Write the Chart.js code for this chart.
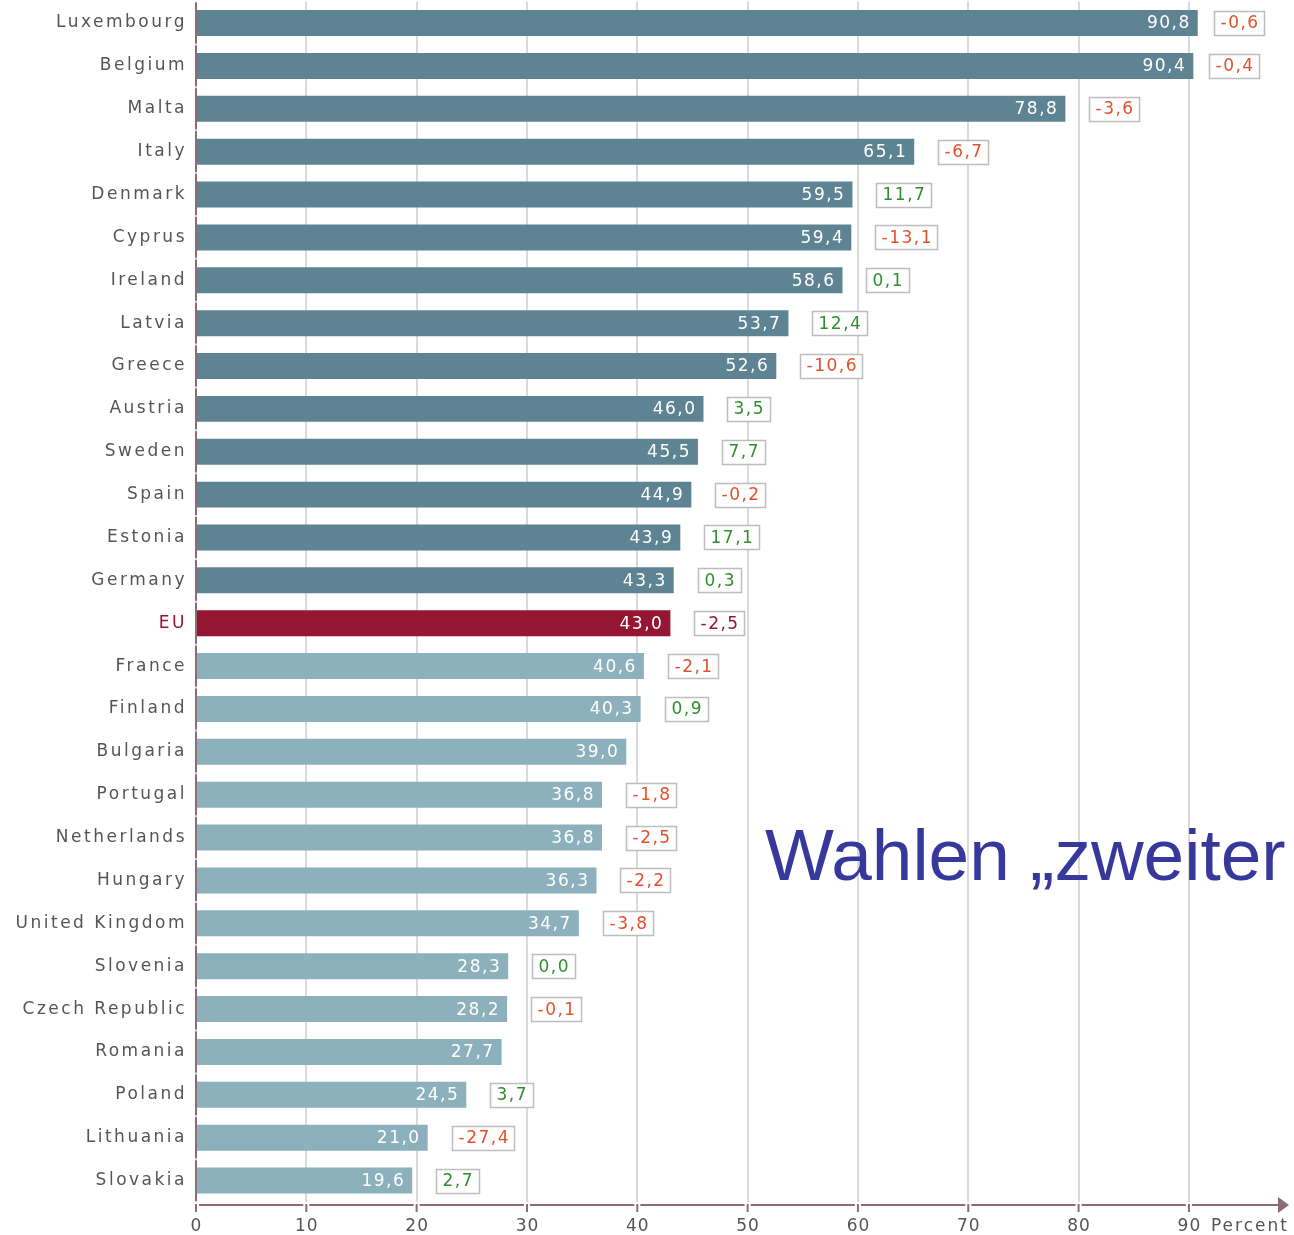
<!DOCTYPE html>
<html>
<head>
<meta charset="utf-8">
<script src="https://cdn.jsdelivr.net/npm/chart.js@4.4.1/dist/chart.umd.min.js"></script>
<style>
  html, body { margin: 0; padding: 0; background: #fff; }
  canvas { display: block; }
</style>
</head>
<body>
<canvas id="turnout-chart" width="1294" height="1235"></canvas>
<script>
/* ── Data ── */
const countries = [
  "Luxembourg", "Belgium", "Malta", "Italy", "Denmark", "Cyprus", "Ireland",
  "Latvia", "Greece", "Austria", "Sweden", "Spain", "Estonia", "Germany", "EU",
  "France", "Finland", "Bulgaria", "Portugal", "Netherlands", "Hungary",
  "United Kingdom", "Slovenia", "Czech Republic", "Romania", "Poland",
  "Lithuania", "Slovakia"
];
const turnout = [
  90.8, 90.4, 78.8, 65.1, 59.5, 59.4, 58.6,
  53.7, 52.6, 46.0, 45.5, 44.9, 43.9, 43.3, 43.0,
  40.6, 40.3, 39.0, 36.8, 36.8, 36.3,
  34.7, 28.3, 28.2, 27.7, 24.5,
  21.0, 19.6
];
const change = [
  -0.6, -0.4, -3.6, -6.7, 11.7, -13.1, 0.1,
  12.4, -10.6, 3.5, 7.7, -0.2, 17.1, 0.3, -2.5,
  -2.1, 0.9, null, -1.8, -2.5, -2.2,
  -3.8, 0.0, -0.1, null, 3.7,
  -27.4, 2.7
];
const xTicks   = [0, 10, 20, 30, 40, 50, 60, 70, 80, 90];
const axisUnit = "Percent";
const overlayTitle = "Wahlen „zweiter";

/* ── Colours ── */
const DARK_BAR   = "#5e8494";
const LIGHT_BAR  = "#8cb0bc";
const EU_BAR     = "#951632";
const NEG_TEXT   = "#e0522b";
const POS_TEXT   = "#2f8f2f";
const LABEL_GREY = "#555555";
const AXIS_COL   = "#8c6b74";
const FONT       = "'DejaVu Sans', Verdana, sans-serif";

const euIndex   = countries.indexOf("EU");
const barColors = countries.map((c, i) =>
  i < euIndex ? DARK_BAR : i === euIndex ? EU_BAR : LIGHT_BAR);

const fmt = v => v.toFixed(1).replace(".", ",");

/* ── Labels, boxes, axes ── */
const annotate = {
  id: "annotate",
  afterDatasetsDraw(chart) {
    const { ctx, chartArea } = chart;
    const xs   = chart.scales.x;
    const meta = chart.getDatasetMeta(0);
    ctx.save();
    ctx.textBaseline = "middle";
    meta.data.forEach((bar, i) => {
      const y = bar.y;

      // country name
      ctx.font = `17px ${FONT}`;
      ctx.letterSpacing = "2.5px";
      ctx.textAlign = "right";
      ctx.fillStyle = i === euIndex ? EU_BAR : LABEL_GREY;
      ctx.fillText(countries[i], chartArea.left - 9, y);

      // value inside bar
      ctx.letterSpacing = "1.5px";
      ctx.fillStyle = "#ffffff";
      ctx.fillText(fmt(turnout[i]), bar.x - 7, y + 1);

      // change box
      if (change[i] === null) return;
      const txt = fmt(change[i]);
      const w   = Math.round(ctx.measureText(txt).width + 11);
      const gap = bar.x > xs.getPixelForValue(86) ? 16 : 24;
      const bx  = Math.round(bar.x + gap) + 0.5;
      const by  = Math.round(y - 12) + 0.5;
      ctx.fillStyle = "#ffffff";
      ctx.fillRect(bx, by, w, 24);
      ctx.strokeStyle = "#bdbdbd";
      ctx.lineWidth = 1.5;
      ctx.strokeRect(bx, by, w, 24);
      ctx.textAlign = "left";
      ctx.fillStyle = i === euIndex ? EU_BAR : change[i] < 0 ? NEG_TEXT : POS_TEXT;
      ctx.fillText(txt, bx + 6, y + 1);
    });
    ctx.restore();
  },

  afterDraw(chart) {
    const { ctx, chartArea } = chart;
    const xs = chart.scales.x, ys = chart.scales.y;
    const x0 = xs.getPixelForValue(0);
    const axisY = chartArea.bottom + 3;
    const step  = ys.getPixelForValue(1) - ys.getPixelForValue(0);

    ctx.save();
    ctx.strokeStyle = AXIS_COL;
    ctx.fillStyle   = AXIS_COL;
    ctx.lineWidth   = 2;

    // left axis, one segment per row
    countries.forEach((c, i) => {
      const yc = ys.getPixelForValue(i);
      ctx.beginPath();
      ctx.moveTo(x0, yc - step / 2 + 1);
      ctx.lineTo(x0, yc + step / 2 - 1);
      ctx.stroke();
    });

    // bottom axis with tick marks and labels
    const tipX  = chartArea.right + 3;
    const baseX = chartArea.right - 8;
    const labelY = axisY + 22;
    ctx.textBaseline = "middle";
    ctx.textAlign = "center";
    ctx.font = `17px ${FONT}`;
    ctx.letterSpacing = "1px";
    xTicks.forEach((v, k) => {
      const px = xs.getPixelForValue(v);
      ctx.beginPath();
      ctx.moveTo(px, axisY - 1);
      ctx.lineTo(px, axisY + 7);
      ctx.stroke();
      const next = k < xTicks.length - 1 ? xs.getPixelForValue(xTicks[k + 1]) - 3 : baseX;
      ctx.beginPath();
      ctx.moveTo(px + 3, axisY);
      ctx.lineTo(next, axisY);
      ctx.stroke();
      ctx.fillStyle = LABEL_GREY;
      ctx.fillText(String(v), px + 0.5, labelY);
      ctx.fillStyle = AXIS_COL;
    });
    ctx.beginPath();
    ctx.moveTo(tipX, axisY);
    ctx.lineTo(baseX, axisY - 8);
    ctx.lineTo(baseX, axisY + 8);
    ctx.closePath();
    ctx.fill();

    // unit label
    ctx.letterSpacing = "2px";
    ctx.fillStyle = LABEL_GREY;
    ctx.textAlign = "left";
    ctx.fillText(axisUnit, xs.getPixelForValue(90) + 22, labelY);

    // overlay title
    ctx.letterSpacing = "0px";
    ctx.font = "73px 'Liberation Sans', Arial, sans-serif";
    ctx.fillStyle = "#36389c";
    ctx.textBaseline = "alphabetic";
    ctx.fillText(overlayTitle, 765, 880);
    ctx.restore();
  }
};

/* ── Chart ── */
const ctx = document.getElementById("turnout-chart").getContext("2d");
new Chart(ctx, {
  type: "bar",
  data: {
    labels: countries,
    datasets: [{
      data: turnout,
      backgroundColor: barColors,
      borderWidth: 0,
      barPercentage: 0.606,
      categoryPercentage: 1,
    }]
  },
  options: {
    indexAxis: "y",
    responsive: false,
    animation: false,
    layout: { padding: { left: 196, right: 8, top: 1.6, bottom: 33 } },
    plugins: {
      legend:  { display: false },
      tooltip: { enabled: false }
    },
    scales: {
      x: {
        min: 0,
        max: 98.8,
        afterBuildTicks: s => { s.ticks = xTicks.map(v => ({ value: v })); },
        grid:   { color: "#dadada", lineWidth: 2, drawTicks: false },
        border: { display: false },
        ticks:  { display: false }
      },
      y: { display: false }
    }
  },
  plugins: [annotate]
});
</script>
</body>
</html>
